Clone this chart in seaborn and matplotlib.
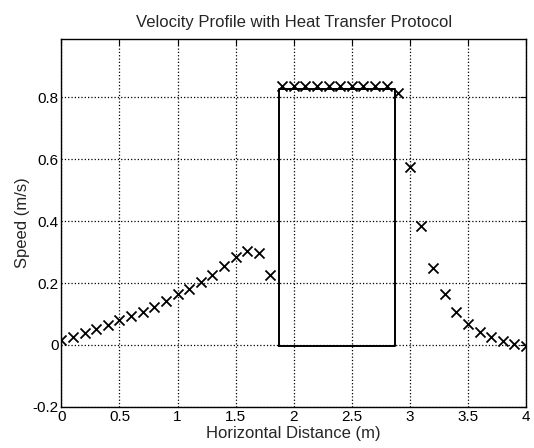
import matplotlib
matplotlib.use('Agg')
import matplotlib.pyplot as plt
import numpy as np
import pandas as pd
import seaborn as sns

# Velocity samples (x every 0.1 m)
distance = [0.0, 0.1, 0.2, 0.3, 0.4, 0.5, 0.6, 0.7, 0.8, 0.9,
            1.0, 1.1, 1.2, 1.3, 1.4, 1.5, 1.6, 1.7, 1.8, 1.9,
            2.0, 2.1, 2.2, 2.3, 2.4, 2.5, 2.6, 2.7, 2.8, 2.9,
            3.0, 3.1, 3.2, 3.3, 3.4, 3.5, 3.6, 3.7, 3.8, 3.9, 4.0]
speed = [0.015, 0.027, 0.039, 0.051, 0.065, 0.079, 0.093, 0.107, 0.124, 0.142,
         0.165, 0.182, 0.202, 0.226, 0.254, 0.284, 0.305, 0.298, 0.227, 0.835,
         0.835, 0.835, 0.835, 0.835, 0.835, 0.835, 0.835, 0.835, 0.835, 0.815,
         0.574, 0.384, 0.25, 0.163, 0.106, 0.066, 0.042, 0.026, 0.013, 0.002, -0.003]

# heat transfer region outline
box_x = [1.87, 2.87]
box_y = [-0.004, 0.828]

xticks = [0, 0.5, 1, 1.5, 2, 2.5, 3, 3.5, 4]
xtick_labels = ['0', '0.5', '1', '1.5', '2', '2.5', '3', '3.5', '4']
yticks = [-0.2, 0, 0.2, 0.4, 0.6, 0.8]
ytick_labels = ['-0.2', '0', '0.2', '0.4', '0.6', '0.8']

df = pd.DataFrame({'distance': distance, 'speed': speed})

sns.set_style('white')
plt.rcParams['font.family'] = ['Liberation Sans', 'DejaVu Sans']

fig = plt.figure(figsize=(5.34, 4.48), dpi=100)
ax = fig.add_axes([0.115, 0.092, 0.87, 0.822])

sns.scatterplot(data=df, x='distance', y='speed', marker='x', color='black',
                s=52, linewidth=1.3, ax=ax, zorder=3)

# rectangle outline
rx = [box_x[0], box_x[1], box_x[1], box_x[0], box_x[0]]
ry = [box_y[0], box_y[0], box_y[1], box_y[1], box_y[0]]
ax.plot(rx, ry, color='black', linewidth=1.4, zorder=2)

ax.set_xlim(0, 4)
ax.set_ylim(-0.2, 0.99)
ax.set_xticks(xticks)
ax.set_xticklabels(xtick_labels)
ax.set_yticks(yticks)
ax.set_yticklabels(ytick_labels)
ax.tick_params(direction='in', length=4, width=0.8, top=True, right=True,
               labelsize=11, colors='black', pad=2)
ax.grid(True, linestyle=':', color='black', linewidth=0.9)
for sp in ax.spines.values():
    sp.set_color('black')
    sp.set_linewidth(1.0)

ax.set_title('Velocity Profile with Heat Transfer Protocol', fontsize=12, pad=8)
ax.set_xlabel('Horizontal Distance (m)', fontsize=12, labelpad=2)
ax.set_ylabel('Speed (m/s)', fontsize=12, labelpad=2)

fig.savefig('out.png', dpi=100)
